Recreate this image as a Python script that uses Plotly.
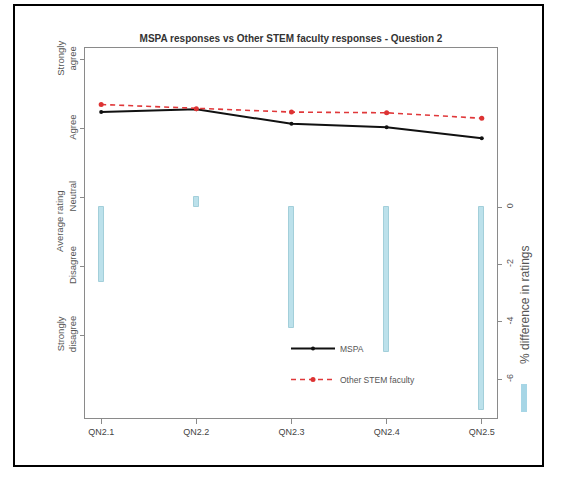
import plotly.graph_objects as go

questions = ["QN2.1", "QN2.2", "QN2.3", "QN2.4", "QN2.5"]
mspa = [4.24, 4.28, 4.07, 4.02, 3.86]
other_stem = [4.35, 4.29, 4.24, 4.23, 4.15]
pct_diff = [-2.6, 0.35, -4.2, -5.05, -7.07]

rating_vals = [5, 4, 3, 2, 1]
rating_text = ["Strongly<br>agree", "Agree", "Neutral", "Disagree", "Strongly<br>disagree"]
pct_ticks = [0, -2, -4, -6]

W, H = 562, 483
L, R, T, B = 85, 65, 48, 65
pw, ph = W - L - R, H - T - B

def px(x):
    return (x - L) / pw

def py(y):
    return (H - B - y) / ph

FONT = "Liberation Sans"
fig = go.Figure()

fig.add_trace(go.Bar(
    x=list(range(len(questions))), y=pct_diff, yaxis="y2", width=0.055,
    marker=dict(color="#BCE1EB", line=dict(color="#A3CFDA", width=1)),
    showlegend=False, hoverinfo="skip"))

fig.add_trace(go.Scatter(
    x=list(range(len(questions))), y=mspa, name="MSPA", mode="lines+markers",
    line=dict(color="#111111", width=2), marker=dict(size=4, color="#111111"),
    legendgroup="a"))
fig.add_trace(go.Scatter(
    x=list(range(len(questions))), y=other_stem, name="Other STEM faculty",
    mode="lines+markers",
    line=dict(color="#E0383A", width=1.6, dash="5px,4px"),
    marker=dict(size=5, color="#D33", symbol="circle"),
    legendgroup="b"))

axcol = "#8a8a8a"
fig.update_layout(
    width=W, height=H,
    margin=dict(l=L, r=R, t=T, b=B),
    paper_bgcolor="white", plot_bgcolor="white",
    font=dict(family=FONT, size=9, color="#444"),
    title=dict(text="<b>MSPA responses vs Other STEM faculty responses - Question 2</b>",
               x=291 / W, xanchor="center",
               y=1 - 38 / H, yanchor="middle",
               font=dict(family=FONT, size=10, color="#333")),
    xaxis=dict(range=[-0.17, 4.16], tickvals=list(range(len(questions))),
               ticktext=questions, showgrid=False, zeroline=False,
               showline=True, linecolor=axcol, linewidth=1, mirror=True,
               ticks="outside", ticklen=5, tickcolor=axcol,
               tickfont=dict(size=9, color="#444")),
    yaxis=dict(range=[-0.2, 5.17], tickvals=rating_vals, ticktext=rating_text,
               tickangle=-90, showgrid=False, zeroline=False,
               showline=True, linecolor=axcol, linewidth=1, mirror=True,
               ticks="outside", ticklen=4, tickcolor=axcol,
               tickfont=dict(size=9.5, color="#555")),
    yaxis2=dict(range=[-7.35, 5.54], overlaying="y", side="right",
                tickvals=pct_ticks, ticktext=[str(v) for v in pct_ticks],
                tickangle=-90, showgrid=False, zeroline=False,
                showline=False, ticks="outside", ticklen=4, tickcolor=axcol,
                tickfont=dict(size=9, color="#555")),
    legend=dict(x=px(286), y=py(334), xanchor="left", yanchor="top",
                bgcolor="rgba(0,0,0,0)", tracegroupgap=12, itemwidth=44,
                font=dict(size=8.5, color="#555")),
    bargap=0,
)

fig.add_annotation(text="Average rating", textangle=-90, xref="paper", yref="paper",
                   x=px(59), y=py(221), xanchor="center", yanchor="middle",
                   showarrow=False, font=dict(size=9.5, color="#555"))
fig.add_annotation(text="% difference in ratings", textangle=-90, xref="paper",
                   yref="paper", x=px(525), y=py(305), xanchor="center",
                   yanchor="middle", showarrow=False,
                   font=dict(size=12, color="#555"))

# small key box under the right label
fig.add_shape(type="rect", xref="paper", yref="paper",
              x0=px(521), x1=px(527), y0=py(412), y1=py(384),
              fillcolor="#A7D6E6", line=dict(width=0), layer="above")
# outer frame
fig.add_shape(type="rect", xref="paper", yref="paper",
              x0=px(14), x1=px(543), y0=py(466), y1=py(5),
              line=dict(color="black", width=2), fillcolor="rgba(0,0,0,0)")

fig.write_html("out.html", config={"displayModeBar": False},
               post_script="document.body.style.margin='0px';")
